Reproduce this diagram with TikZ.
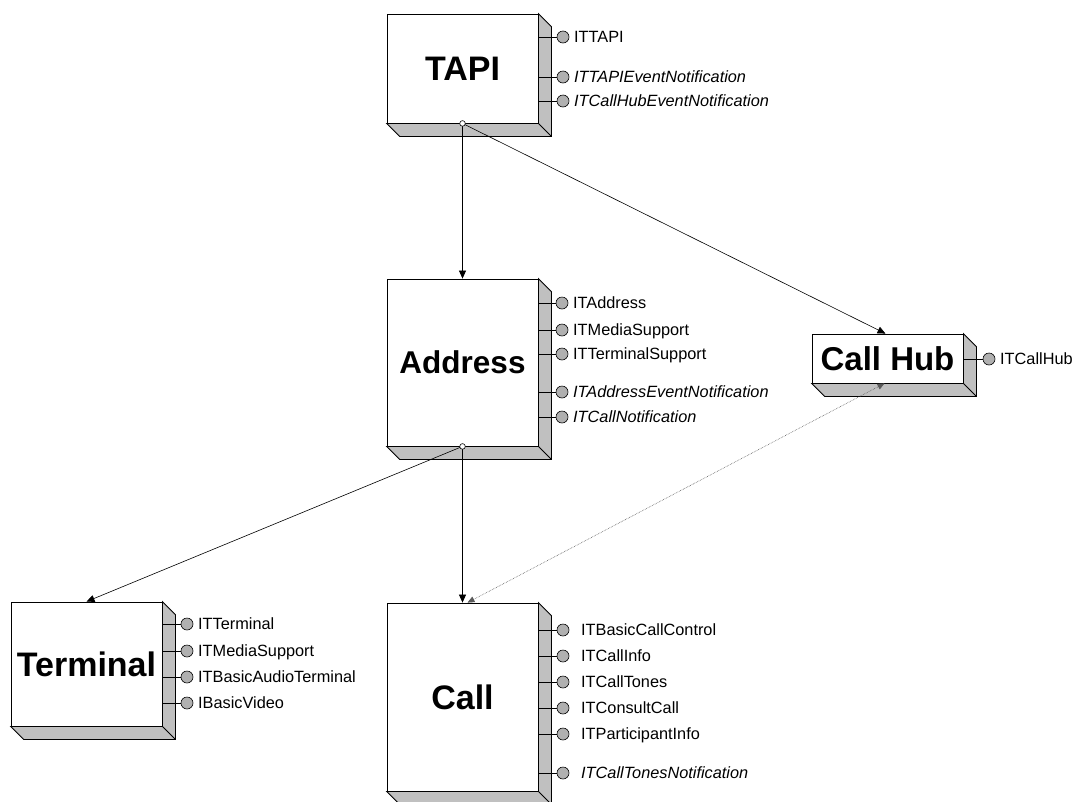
\documentclass[tikz,border=0pt]{standalone}
\usepackage{fontspec}
\setmainfont{Liberation Sans}
\usetikzlibrary{arrows.meta,calc}
\definecolor{depthgray}{RGB}{192,192,192}
\definecolor{ballgray}{RGB}{176,176,176}
\tikzset{
  comp/.style={draw, line width=0.8pt, fill=white, inner sep=0pt, minimum width=151pt,
    font=\bfseries\fontsize{34}{38}\selectfont},
  extr/.style={draw, line width=0.8pt, fill=depthgray},
  conn/.style={line width=0.6pt, -{Triangle[length=8pt,width=7pt]}},
  weak/.style={line width=0.6pt, densely dotted, gray!70!black, {Triangle[length=7pt,width=6pt]}-{Triangle[length=7pt,width=6pt]}},
  origin/.style={draw, line width=0.6pt, fill=white},
  lolline/.style={line width=0.6pt},
  lollball/.style={draw, line width=0.6pt, fill=ballgray},
  lbl/.style={anchor=base west, inner sep=0pt, font=\fontsize{16.3}{19}\selectfont},
}
\newcommand\extrude[1]{%
  \path[extr] (#1.north east) -- ++(13,13) -- ($(#1.south east)+(13,13)$)
    -- ($(#1.south west)+(13,13)$) -- (#1.south west) -- (#1.south east) -- cycle;
  \draw[line width=0.8pt] (#1.south east) -- ++(13,13);}
\newcommand\lolli[6][11]{%
  \draw[lolline] (#3,#5) -- (#4-6,#5);
  \draw[lollball] (#4,#5) circle[radius=6];
  \node[lbl] (#2) at (#4+#1,#5+5.8) {#6};}
\begin{document}
\begin{tikzpicture}[x=1pt,y=-1pt]
\useasboundingbox (0,0) rectangle (1073,801);
% components
\node[comp, minimum height=109pt] (tapi) at (462.5,68.5) {TAPI};
\node[comp, minimum height=167pt, font=\bfseries\fontsize{31.5}{36}\selectfont] (addr) at (462.5,362.5) {Address};
\node[comp, minimum height=49pt, font=\bfseries\fontsize{33}{36}\selectfont] (hub) at (887.5,358.5) {Call Hub};
\node[comp, minimum height=124pt] (term) at (86.5,664) {Terminal};
\node[comp, minimum height=188pt] (call) at (462.5,697) {Call};
\extrude{tapi}\extrude{addr}\extrude{hub}\extrude{term}\extrude{call}
% interfaces
\lolli{i1}{538}{563}{37}{ITTAPI}
\lolli{i2}{538}{563}{77}{\itshape ITTAPIEventNotification}
\lolli{i3}{538}{563}{101}{\itshape ITCallHubEventNotification}
\lolli{a1}{538}{562}{303}{ITAddress}
\lolli{a2}{538}{562}{330}{ITMediaSupport}
\lolli{a3}{538}{562}{354}{ITTerminalSupport}
\lolli{a4}{538}{562}{392}{\itshape ITAddressEventNotification}
\lolli{a5}{538}{562}{417}{\itshape ITCallNotification}
\lolli{h1}{963}{989}{359}{ITCallHub}
\lolli{t1}{162}{187}{624}{ITTerminal}
\lolli{t2}{162}{187}{651}{ITMediaSupport}
\lolli{t3}{162}{187}{677}{ITBasicAudioTerminal}
\lolli{t4}{162}{187}{703}{IBasicVideo}
\lolli[18]{c1}{538}{563}{630}{ITBasicCallControl}
\lolli[18]{c2}{538}{563}{656}{ITCallInfo}
\lolli[18]{c3}{538}{563}{682}{ITCallTones}
\lolli[18]{c4}{538}{563}{708}{ITConsultCall}
\lolli[18]{c5}{538}{563}{734}{ITParticipantInfo}
\lolli[18]{c6}{538}{563}{773}{\itshape ITCallTonesNotification}
% connectors
\draw[conn] (tapi.south) -- (addr.north);
\draw[conn] (tapi.south) -- ([xshift=-2]hub.north);
\draw[conn] (addr.south) -- (term.north);
\draw[conn] (addr.south) -- (call.north);
\draw[weak] ([xshift=5]call.north) -- ([xshift=-3]hub.south);
\draw[origin] (tapi.south) circle[radius=2.8];
\draw[origin] (addr.south) circle[radius=2.8];
\end{tikzpicture}
\end{document}
